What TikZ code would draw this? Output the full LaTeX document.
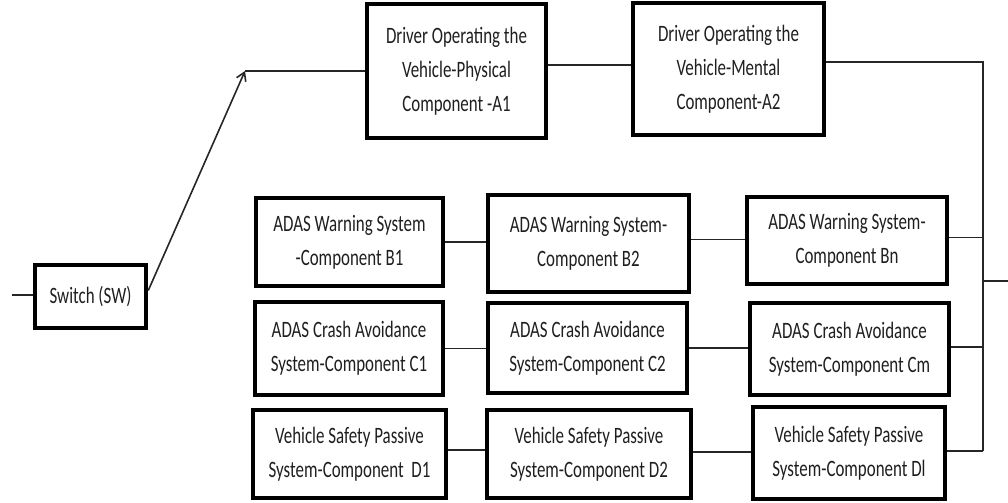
\documentclass[tikz,border=0pt]{standalone}
\usepackage{fontspec}
\setmainfont{Carlito}[FakeStretch=0.72]
\usetikzlibrary{arrows.meta}
\begin{document}
\begin{tikzpicture}[x=0.5pt,y=-0.5pt,
  box/.style={draw=black,line width=2.25pt,rectangle,inner sep=0pt,align=center,
    text=black!88,font={\fontsize{11.75pt}{17pt}\selectfont}},
  wire/.style={draw=black!85,line width=0.8pt},
  arr/.style={wire,-{Straight Barb[length=4pt,width=5pt]}}]
\useasboundingbox (0,0) rectangle (1008,503);
% boxes
\node[box,minimum width=89.5pt,minimum height=67pt] (A1) at (456.5,71) {Driver Operating the\\Vehicle-Physical\\Component -A1};
\node[box,minimum width=95.5pt,minimum height=66pt] (A2) at (728.5,69) {Driver Operating the\\Vehicle-Mental\\Component-A2};
\node[box,minimum width=93.5pt,minimum height=44pt] (B1) at (349.5,242) {ADAS Warning System\\-Component B1};
\node[box,minimum width=100.5pt,minimum height=48.5pt] (B2) at (588.5,243.5) {ADAS Warning System-\\Component B2};
\node[box,minimum width=100pt,minimum height=43.5pt] (Bn) at (847,240.5) {ADAS Warning System-\\Component Bn};
\node[box,minimum width=94pt,minimum height=46.5pt] (C1) at (349,348.5) {ADAS Crash Avoidance\\System-Component C1};
\node[box,minimum width=99.5pt,minimum height=45pt] (C2) at (587.5,348) {ADAS Crash Avoidance\\System-Component C2};
\node[box,minimum width=99.5pt,minimum height=46pt] (Cm) at (849.5,349) {ADAS Crash Avoidance\\System-Component Cm};
\node[box,minimum width=96.5pt,minimum height=44pt] (D1) at (349.5,454) {Vehicle Safety Passive\\System-Component\ \ D1};
\node[box,minimum width=102pt,minimum height=44pt] (D2) at (589,454) {Vehicle Safety Passive\\System-Component D2};
\node[box,minimum width=96pt,minimum height=46pt] (Dl) at (849,453) {Vehicle Safety Passive\\System-Component Dl};
\node[box,minimum width=55.5pt,minimum height=31.5pt] (SW) at (90.5,296.5) {Switch (SW)};
% free ends
\coordinate (in) at (12,295);
\coordinate (tip) at (245,71);
\coordinate (bx) at (983,0);
\coordinate (out) at (1008,281);
% connectors
\draw[wire] (in) -- (in -| SW.west);
\draw[arr] ([yshift=3pt]SW.east) -- (tip);
\draw[wire] (tip) -- (tip -| A1.west);
\draw[wire] ([yshift=3pt]A1.east) -- ([yshift=3pt]A1.east -| A2.west);
\draw[wire] ([yshift=3.5pt]A2.east) -- ([yshift=3.5pt]A2.east -| bx) -- ([yshift=1pt]bx |- Dl.east);
\draw[wire] (B1.east) -- (B1.east -| B2.west);
\draw[wire] ([yshift=2pt]B2.east) -- ([yshift=2pt]B2.east -| Bn.west);
\draw[wire] ([yshift=1.5pt]Bn.east) -- ([yshift=1.5pt]Bn.east -| bx);
\draw[wire] (C1.east) -- (C1.east -| C2.west);
\draw[wire] (C2.east) -- (C2.east -| Cm.west);
\draw[wire] ([yshift=1pt]Cm.east) -- ([yshift=1pt]Cm.east -| bx);
\draw[wire] ([yshift=2pt]D1.east) -- ([yshift=2pt]D1.east -| D2.west);
\draw[wire] ([yshift=1pt]D2.east) -- ([yshift=1pt]D2.east -| Dl.west);
\draw[wire] ([yshift=1pt]Dl.east) -- ([yshift=1pt]Dl.east -| bx);
\draw[wire] (bx |- out) -- (out);
\end{tikzpicture}
\end{document}
